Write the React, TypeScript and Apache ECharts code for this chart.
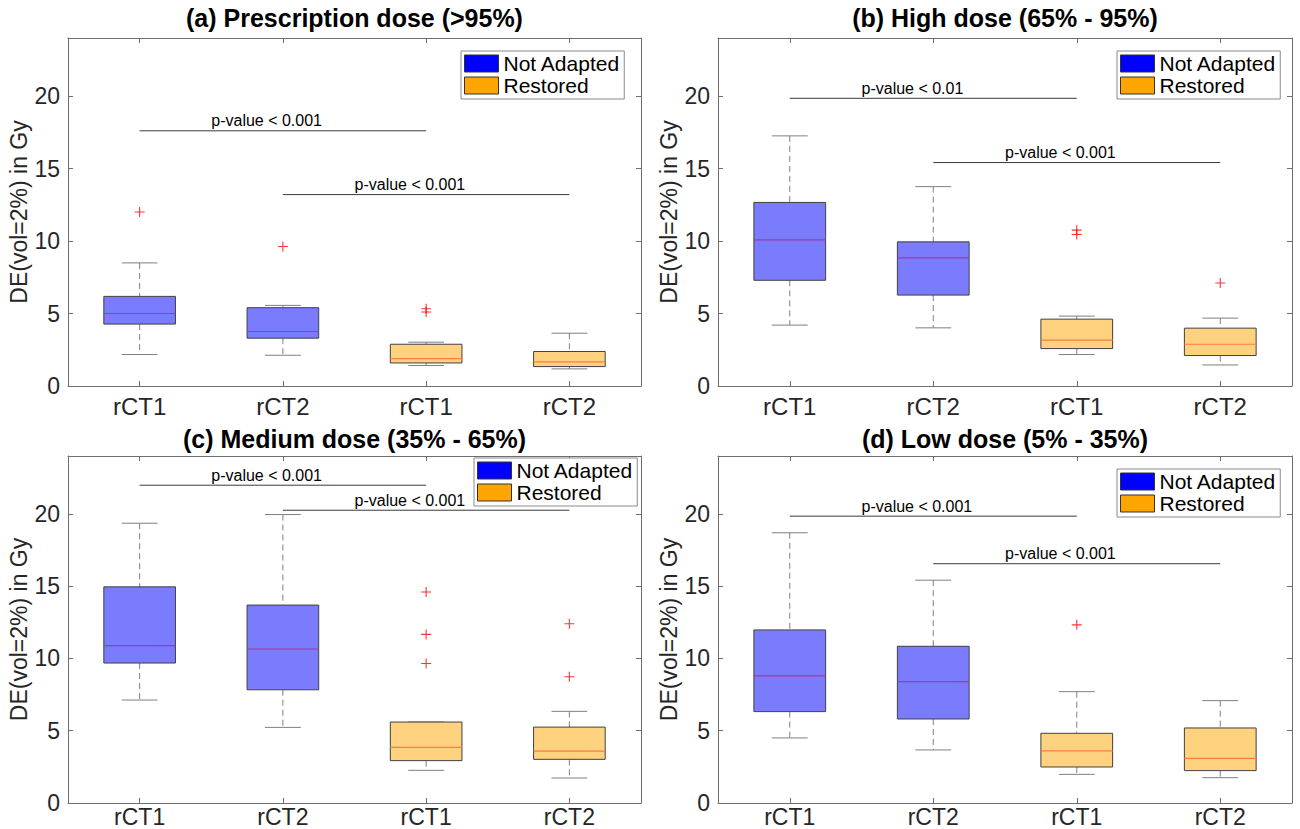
import React, { useEffect, useRef } from "react";
import * as echarts from "echarts";

const FONT = '"Liberation Sans", Arial, Helvetica, sans-serif';

// categories
const xKeys = ["NA-rCT1", "NA-rCT2", "R-rCT1", "R-rCT2"];
const tickLabels = ["rCT1", "rCT2", "rCT1", "rCT2"];
const groupNames = ["Not Adapted", "Restored"];
const titles = [
  "(a) Prescription dose (>95%)",
  "(b) High dose (65% - 95%)",
  "(c) Medium dose (35% - 65%)",
  "(d) Low dose (5% - 35%)",
];
const yTicks = [0, 5, 10, 15, 20];

// box stats: [categoryIndex, min whisker, q1, median, q3, max whisker]
const naA = [[0, 2.17, 4.27, 5.0, 6.18, 8.49], [1, 2.12, 3.3, 3.76, 5.4, 5.56]];
const rA = [[2, 1.41, 1.59, 1.89, 2.88, 3.02], [3, 1.18, 1.34, 1.66, 2.38, 3.64]];
const outA = [[0, 12.0], [1, 9.62], [2, 5.33], [2, 5.1]];
const pA = [[0, 2, 17.6], [1, 3, 13.2]];
const pTextA = ["p-value < 0.001", "p-value < 0.001"];

const naB = [[0, 4.2, 7.29, 10.08, 12.66, 17.25], [1, 4.01, 6.27, 8.83, 9.94, 13.75]];
const rB = [[2, 2.17, 2.58, 3.16, 4.61, 4.82], [3, 1.45, 2.1, 2.88, 3.99, 4.68]];
const outB = [[2, 10.75], [2, 10.45], [3, 7.1]];
const pB = [[0, 2, 19.84], [1, 3, 15.41]];
const pTextB = ["p-value < 0.01", "p-value < 0.001"];

const naC = [[0, 7.12, 9.68, 10.88, 14.95, 19.35], [1, 5.23, 7.83, 10.65, 13.69, 19.95]];
const rC = [[2, 2.26, 2.93, 3.85, 5.6, 5.6], [3, 1.73, 3.02, 3.59, 5.25, 6.34]];
const outC = [[2, 14.59], [2, 11.66], [2, 9.65], [3, 12.4], [3, 8.73]];
const pC = [[0, 2, 21.98], [1, 3, 20.25]];
const pTextC = ["p-value < 0.001", "p-value < 0.001"];

const naD = [[0, 4.5, 6.32, 8.79, 11.97, 18.69], [1, 3.67, 5.81, 8.4, 10.84, 15.41]];
const rD = [[2, 1.98, 2.49, 3.6, 4.82, 7.7], [3, 1.75, 2.24, 3.09, 5.19, 7.08]];
const outD = [[2, 12.32]];
const pD = [[0, 2, 19.84], [1, 3, 16.55]];
const pTextD = ["p-value < 0.001", "p-value < 0.001"];

const panels = [
  { na: naA, r: rA, out: outA, p: pA, pText: pTextA },
  { na: naB, r: rB, out: outB, p: pB, pText: pTextB },
  { na: naC, r: rC, out: outC, p: pC, pText: pTextC },
  { na: naD, r: rD, out: outD, p: pD, pText: pTextD },
];

// layout
const grids = [
  { left: 68, top: 38, width: 573, height: 348 },
  { left: 718, top: 38, width: 574, height: 348 },
  { left: 68, top: 456, width: 573, height: 347 },
  { left: 718, top: 456, width: 574, height: 347 },
];
const labelMargin = [8, 8, 2, 2];
const labelSize = [24, 24, 23, 23];
const legendPos = [
  { left: 461, top: 51 },
  { left: 1117, top: 51 },
  { left: 474, top: 458 },
  { left: 1117, top: 469 },
];
const titleY = [18, 18, 439, 439];

const AX = "#6e6e6e";
const NA_FILL = "#7b7bfe";
const R_FILL = "#ffd27f";
const NA_MED = "#9a3fa0";
const R_MED = "#ff7a45";
const EDGE = "#404040";
const WHISK = "#7f7f7f";

function boxRenderer(fill: string, med: string) {
  return (params: any, api: any) => {
    const x = api.value(0);
    const band = api.size([1, 0])[0];
    const hb = band * 0.25;
    const hc = band * 0.125;
    const pMin = api.coord([x, api.value(1)]);
    const pQ1 = api.coord([x, api.value(2)]);
    const pMed = api.coord([x, api.value(3)]);
    const pQ3 = api.coord([x, api.value(4)]);
    const pMax = api.coord([x, api.value(5)]);
    const cx = pMed[0];
    const dash = { stroke: WHISK, lineWidth: 1, lineDash: [6, 4] };
    const solid = { stroke: WHISK, lineWidth: 1 };
    return {
      type: "group",
      children: [
        { type: "line", shape: { x1: cx, y1: pMax[1], x2: cx, y2: pQ3[1] }, style: dash },
        { type: "line", shape: { x1: cx, y1: pQ1[1], x2: cx, y2: pMin[1] }, style: dash },
        { type: "line", shape: { x1: cx - hc, y1: pMax[1], x2: cx + hc, y2: pMax[1] }, style: solid },
        { type: "line", shape: { x1: cx - hc, y1: pMin[1], x2: cx + hc, y2: pMin[1] }, style: solid },
        {
          type: "rect",
          shape: { x: cx - hb, y: pQ3[1], width: hb * 2, height: pQ1[1] - pQ3[1] },
          style: { fill, stroke: EDGE, lineWidth: 1 },
        },
        { type: "line", shape: { x1: cx - hb, y1: pMed[1], x2: cx + hb, y2: pMed[1] }, style: { stroke: med, lineWidth: 1.2 } },
      ],
    };
  };
}

function pRenderer(texts: string[]) {
  return (params: any, api: any) => {
    const s = api.value(0);
    const e = api.value(1);
    const y = api.value(2);
    const ps = api.coord([s, y]);
    const pe = api.coord([e, y]);
    const pn = api.coord([s + 1, y]);
    const tx = (ps[0] + pn[0]) / 2;
    return {
      type: "group",
      children: [
        { type: "line", shape: { x1: ps[0], y1: ps[1], x2: pe[0], y2: pe[1] }, style: { stroke: "#3a3a3a", lineWidth: 1 } },
        {
          type: "text",
          x: tx,
          y: ps[1] - 2,
          style: {
            text: texts[params.dataIndex],
            fontSize: 16,
            fontFamily: FONT,
            fill: "#000",
            align: "left",
            verticalAlign: "bottom",
          },
        },
      ],
    };
  };
}

const CROSS = "path://M4.45,0H5.55V4.45H10V5.55H5.55V10H4.45V5.55H0V4.45H4.45Z";

export default function App() {
  const ref = useRef<HTMLDivElement>(null);
  useEffect(() => {
    if (!ref.current) return;
    const chart = echarts.init(ref.current, undefined, { renderer: "svg" });

    const xAxis: any[] = [];
    const yAxis: any[] = [];
    const series: any[] = [];
    const legend: any[] = [];
    const graphic: any[] = [];

    grids.forEach((g, gi) => {
      const tickStyle = { show: true, inside: true, length: 5, lineStyle: { color: AX, width: 1 } };
      const lineStyle = { show: true, onZero: false, lineStyle: { color: AX, width: 1 } };
      xAxis.push({
        type: "category",
        gridIndex: gi,
        data: xKeys,
        position: "bottom",
        boundaryGap: true,
        axisLine: lineStyle,
        axisTick: { ...tickStyle, alignWithLabel: true },
        axisLabel: {
          formatter: (v: string, i: number) => tickLabels[i],
          fontSize: labelSize[gi],
          fontFamily: FONT,
          color: "#262626",
          margin: labelMargin[gi],
        },
        splitLine: { show: false },
      });
      xAxis.push({
        type: "category",
        gridIndex: gi,
        data: xKeys,
        position: "top",
        boundaryGap: true,
        axisLine: lineStyle,
        axisTick: { ...tickStyle, alignWithLabel: true },
        axisLabel: { show: false },
        splitLine: { show: false },
      });
      yAxis.push({
        type: "value",
        gridIndex: gi,
        min: 0,
        max: 24,
        interval: 5,
        position: "left",
        axisLine: lineStyle,
        axisTick: tickStyle,
        axisLabel: {
          formatter: (v: number) => (yTicks.indexOf(v) >= 0 ? String(v) : ""),
          fontSize: 23,
          fontFamily: FONT,
          color: "#262626",
          margin: 8,
        },
        splitLine: { show: false },
        name: "DE(vol=2%) in Gy",
        nameLocation: "middle",
        nameGap: 35,
        nameTextStyle: { fontSize: 23, fontFamily: FONT, color: "#262626" },
      });
      yAxis.push({
        type: "value",
        gridIndex: gi,
        min: 0,
        max: 24,
        interval: 5,
        position: "right",
        axisLine: lineStyle,
        axisTick: tickStyle,
        axisLabel: { show: false },
        splitLine: { show: false },
      });

      const p = panels[gi];
      const xi = gi * 2;
      const yi = gi * 2;
      series.push({
        type: "custom",
        name: groupNames[0],
        xAxisIndex: xi,
        yAxisIndex: yi,
        data: p.na,
        encode: { x: 0, y: [1, 2, 3, 4, 5] },
        renderItem: boxRenderer(NA_FILL, NA_MED),
        itemStyle: { color: "#0000ff" },
        z: 2,
      });
      series.push({
        type: "custom",
        name: groupNames[1],
        xAxisIndex: xi,
        yAxisIndex: yi,
        data: p.r,
        encode: { x: 0, y: [1, 2, 3, 4, 5] },
        renderItem: boxRenderer(R_FILL, R_MED),
        itemStyle: { color: "#ffa500" },
        z: 2,
      });
      series.push({
        type: "scatter",
        name: "outliers",
        xAxisIndex: xi,
        yAxisIndex: yi,
        data: p.out,
        symbol: CROSS,
        symbolSize: 10,
        itemStyle: { color: "#ff0000" },
        z: 3,
      });
      series.push({
        type: "custom",
        name: "pvalues",
        xAxisIndex: xi,
        yAxisIndex: yi,
        data: p.p,
        encode: { x: [0, 1], y: 2 },
        renderItem: pRenderer(p.pText),
        clip: false,
        z: 4,
      });

      legend.push({
        orient: "vertical",
        left: legendPos[gi].left,
        top: legendPos[gi].top,
        itemWidth: 34,
        itemHeight: 17,
        itemGap: 1,
        padding: [2, 4, 3, 3],
        backgroundColor: "#ffffff",
        borderColor: "#8a8a8a",
        borderWidth: 1,
        borderRadius: 0,
        selectedMode: false,
        z: 10,
        textStyle: { fontSize: 21, lineHeight: 21, color: "#000", fontFamily: FONT },
        data: [
          { name: groupNames[0], icon: "rect", itemStyle: { color: "#0000ff", borderColor: "#333", borderWidth: 1 } },
          { name: groupNames[1], icon: "rect", itemStyle: { color: "#ffa500", borderColor: "#333", borderWidth: 1 } },
        ],
      });

      graphic.push({
        type: "text",
        x: g.left + g.width / 2,
        y: titleY[gi],
        style: {
          text: titles[gi],
          fontSize: 25,
          fontWeight: "bold",
          fontFamily: FONT,
          fill: "#000",
          align: "center",
          verticalAlign: "middle",
        },
      });
    });

    chart.setOption({
      animation: false,
      backgroundColor: "#ffffff",
      grid: grids.map((g) => ({ ...g, containLabel: false, outerBoundsMode: "none" })),
      xAxis,
      yAxis,
      series,
      legend,
      graphic,
    });
    return () => chart.dispose();
  }, []);

  return (
    <div
      ref={ref}
      style={{ position: "fixed", left: 0, top: 0, width: 1300, height: 829, background: "#fff" }}
    />
  );
}
